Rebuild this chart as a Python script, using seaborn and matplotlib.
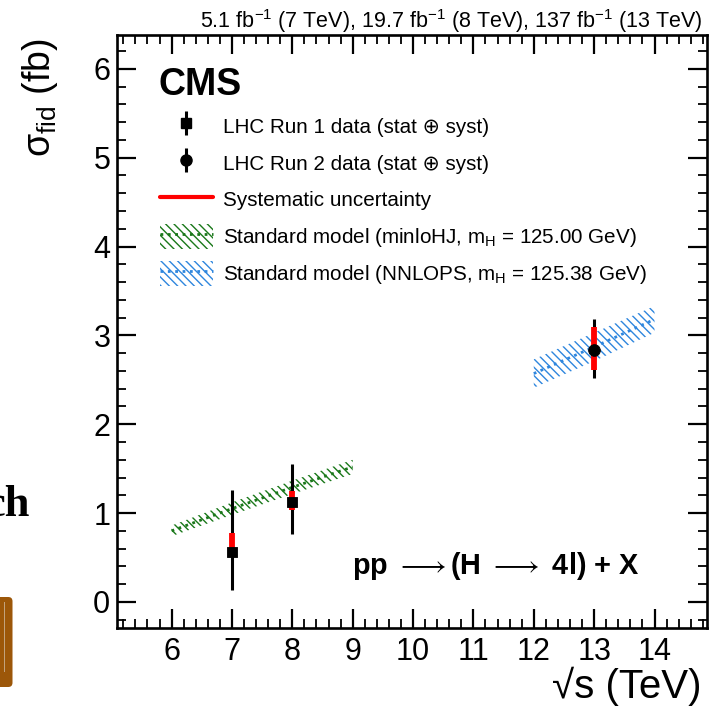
import matplotlib
matplotlib.use("Agg")
import matplotlib.pyplot as plt
import seaborn as sns
import numpy as np
import pandas as pd
from matplotlib.ticker import MultipleLocator
from matplotlib.lines import Line2D
from matplotlib.patches import Patch, FancyBboxPatch
from matplotlib.legend_handler import HandlerTuple

# ---------------- data ----------------
run1_energy = [7, 8]
run1_xsec = [0.56, 1.12]
run1_tot_up = [0.70, 0.43]
run1_tot_dn = [0.43, 0.36]
run1_sys_up = [0.22, 0.13]
run1_sys_dn = [0.05, 0.09]

run2_energy = [13]
run2_xsec = [2.84]
run2_tot_up = [0.34]
run2_tot_dn = [0.32]
run2_sys_up = [0.25]
run2_sys_dn = [0.23]

minlo_energy = [6, 7, 8, 9]
minlo_center = [0.80, 1.05, 1.29, 1.52]
minlo_half = [0.06, 0.07, 0.075, 0.08]

nnlops_energy = [12, 13, 14]
nnlops_center = [2.57, 2.87, 3.18]
nnlops_half = [0.16, 0.16, 0.15]

x_ticks = [6, 7, 8, 9, 10, 11, 12, 13, 14]
y_ticks = [0, 1, 2, 3, 4, 5, 6]

legend_labels = [
    "LHC Run 1 data (stat \u2295 syst)",
    "LHC Run 2 data (stat \u2295 syst)",
    "Systematic uncertainty",
    "Standard model (minloHJ, m$_{\\mathrm{H}}$ = 125.00 GeV)",
    "Standard model (NNLOPS, m$_{\\mathrm{H}}$ = 125.38 GeV)",
]
lumi_text = ("5.1 fb$^{\\mathrm{-1}}$ (7 TeV), 19.7 fb$^{\\mathrm{-1}}$ (8 TeV), "
             "137 fb$^{\\mathrm{-1}}$ (13 TeV)")

# ---------------- style ----------------
sns.set_style("white")
plt.rcParams["font.family"] = ["Liberation Sans", "DejaVu Sans"]
plt.rcParams["mathtext.fontset"] = "custom"
plt.rcParams["mathtext.rm"] = "Liberation Sans"
plt.rcParams["mathtext.it"] = "Liberation Sans:italic"
plt.rcParams["mathtext.bf"] = "Liberation Sans:bold"
plt.rcParams["hatch.linewidth"] = 1.0
for k in ["text.color", "axes.labelcolor", "xtick.color", "ytick.color",
          "axes.edgecolor"]:
    plt.rcParams[k] = "black"

GREEN = "#1a781a"
BLUE = "#2e86de"
RED = "#ff0000"

fig = plt.figure(figsize=(7.1, 7.15), dpi=100)
ax = fig.add_axes([0.1652, 0.1221, 0.8306, 0.8289])

# ---------------- bands ----------------
df_minlo = pd.DataFrame({"E": minlo_energy, "xs": minlo_center})
df_nnlops = pd.DataFrame({"E": nnlops_energy, "xs": nnlops_center})
lo = np.array(minlo_center) - np.array(minlo_half)
hi = np.array(minlo_center) + np.array(minlo_half)
ax.fill_between(minlo_energy, lo, hi, facecolor="none", edgecolor=GREEN,
                hatch="\\\\\\\\", linewidth=0, zorder=1)
lo = np.array(nnlops_center) - np.array(nnlops_half)
hi = np.array(nnlops_center) + np.array(nnlops_half)
ax.fill_between(nnlops_energy, lo, hi, facecolor="none", edgecolor=BLUE,
                hatch="\\\\\\\\", linewidth=0, zorder=1)
sns.lineplot(data=df_minlo, x="E", y="xs", ax=ax, color=GREEN, lw=2,
             linestyle=":", zorder=1.5)
sns.lineplot(data=df_nnlops, x="E", y="xs", ax=ax, color=BLUE, lw=2,
             linestyle=":", zorder=1.5)

# ---------------- data points ----------------
ax.errorbar(run1_energy, run1_xsec, yerr=[run1_tot_dn, run1_tot_up], fmt="none",
            ecolor="black", elinewidth=2.2, capsize=0, zorder=3)
ax.errorbar(run1_energy, run1_xsec, yerr=[run1_sys_dn, run1_sys_up], fmt="none",
            ecolor=RED, elinewidth=4.2, capsize=0, zorder=4)
ax.errorbar(run2_energy, run2_xsec, yerr=[run2_tot_dn, run2_tot_up], fmt="none",
            ecolor="black", elinewidth=2.2, capsize=0, zorder=3)
ax.errorbar(run2_energy, run2_xsec, yerr=[run2_sys_dn, run2_sys_up], fmt="none",
            ecolor=RED, elinewidth=4.2, capsize=0, zorder=4)
sns.scatterplot(x=run1_energy, y=run1_xsec, ax=ax, marker="s", s=60,
                color="black", edgecolor="black", zorder=5)
sns.scatterplot(x=run2_energy, y=run2_xsec, ax=ax, marker="o", s=70,
                color="black", edgecolor="black", zorder=5)

# ---------------- axes ----------------
ax.set_xlim(5.1, 14.87)
ax.set_ylim(-0.29, 6.38)
ax.set_xticks(x_ticks)
ax.set_yticks(y_ticks)
ax.xaxis.set_minor_locator(MultipleLocator(0.2))
ax.yaxis.set_minor_locator(MultipleLocator(0.2))
ax.tick_params(which="both", direction="in", top=True, right=True,
               bottom=True, left=True, colors="black", labelsize=22)
ax.tick_params(which="major", length=13.5, width=1.6)
ax.tick_params(which="minor", length=6.8, width=1.3)
ax.tick_params(axis="x", pad=7)
ax.tick_params(axis="y", pad=5)
for sp in ax.spines.values():
    sp.set_linewidth(1.9)
    sp.set_color("black")

ax.set_xlabel("\u221as (TeV)", fontsize=29, loc="right")
ax.xaxis.set_label_coords(0.99, -0.066)
ax.set_ylabel("\u03c3$_{\\mathrm{fid}}$ (fb)", fontsize=27, loc="top")
ax.yaxis.set_label_coords(-0.097, 0.994)

# ---------------- texts ----------------
ax.text(0.0693, 0.8988, "CMS", transform=ax.transAxes, fontsize=27,
        fontweight="bold", va="baseline", ha="left")
ax.text(0.398, 0.0906, "pp $\\longrightarrow$(H $\\longrightarrow$ 4l) + X",
        transform=ax.transAxes, fontsize=20.8, fontweight="bold",
        va="baseline", ha="left")
fig.text(703 / 710, 1 - 28 / 715, lumi_text, fontsize=15.5, ha="right",
         va="baseline")

# ---------------- legend ----------------
h_run1 = (Line2D([], [], color="black", marker="|", ms=17, mew=2.2, ls="none"),
          Line2D([], [], color="black", marker="s", ms=7.5, ls="none"))
h_run2 = (Line2D([], [], color="black", marker="|", ms=17, mew=2.2, ls="none"),
          Line2D([], [], color="black", marker="o", ms=8, ls="none"))
h_sys = Line2D([], [], color=RED, lw=3)
h_minlo = (Patch(facecolor="none", edgecolor=GREEN, hatch="\\\\\\\\", lw=0),
           Line2D([], [], color=GREEN, ls=":", lw=2))
h_nnlo = (Patch(facecolor="none", edgecolor=BLUE, hatch="\\\\\\\\", lw=0),
          Line2D([], [], color=BLUE, ls=":", lw=2))
ax.legend([h_run1, h_run2, h_sys, h_minlo, h_nnlo], legend_labels,
          handler_map={tuple: HandlerTuple(ndivide=1, pad=0)},
          loc="upper left", bbox_to_anchor=(0.0724, 0.868), borderaxespad=0,
          borderpad=0, frameon=False, fontsize=14.9, handlelength=2.55,
          handleheight=1.5, handletextpad=0.48, labelspacing=0.56)

# ---------------- slide remnants at the left edge ----------------
fig.text(30 / 710, 1 - 516 / 715, "ch", fontsize=32, fontweight="bold",
         family="Liberation Serif", ha="right", va="baseline")
fig.patches.append(FancyBboxPatch((-6 / 710, 1 - 687 / 715), 18.5 / 710, 90 / 715,
                                  boxstyle="round,pad=0,rounding_size=0.006",
                                  transform=fig.transFigure, facecolor="#9c5709",
                                  edgecolor="none", figure=fig))
fig.patches.append(FancyBboxPatch((3.5 / 710, 1 - 672 / 715), 1.6 / 710, 70 / 715,
                                  boxstyle="square,pad=0",
                                  transform=fig.transFigure, facecolor="#c2a27c",
                                  edgecolor="none", figure=fig))

fig.savefig("out.png", dpi=100)
